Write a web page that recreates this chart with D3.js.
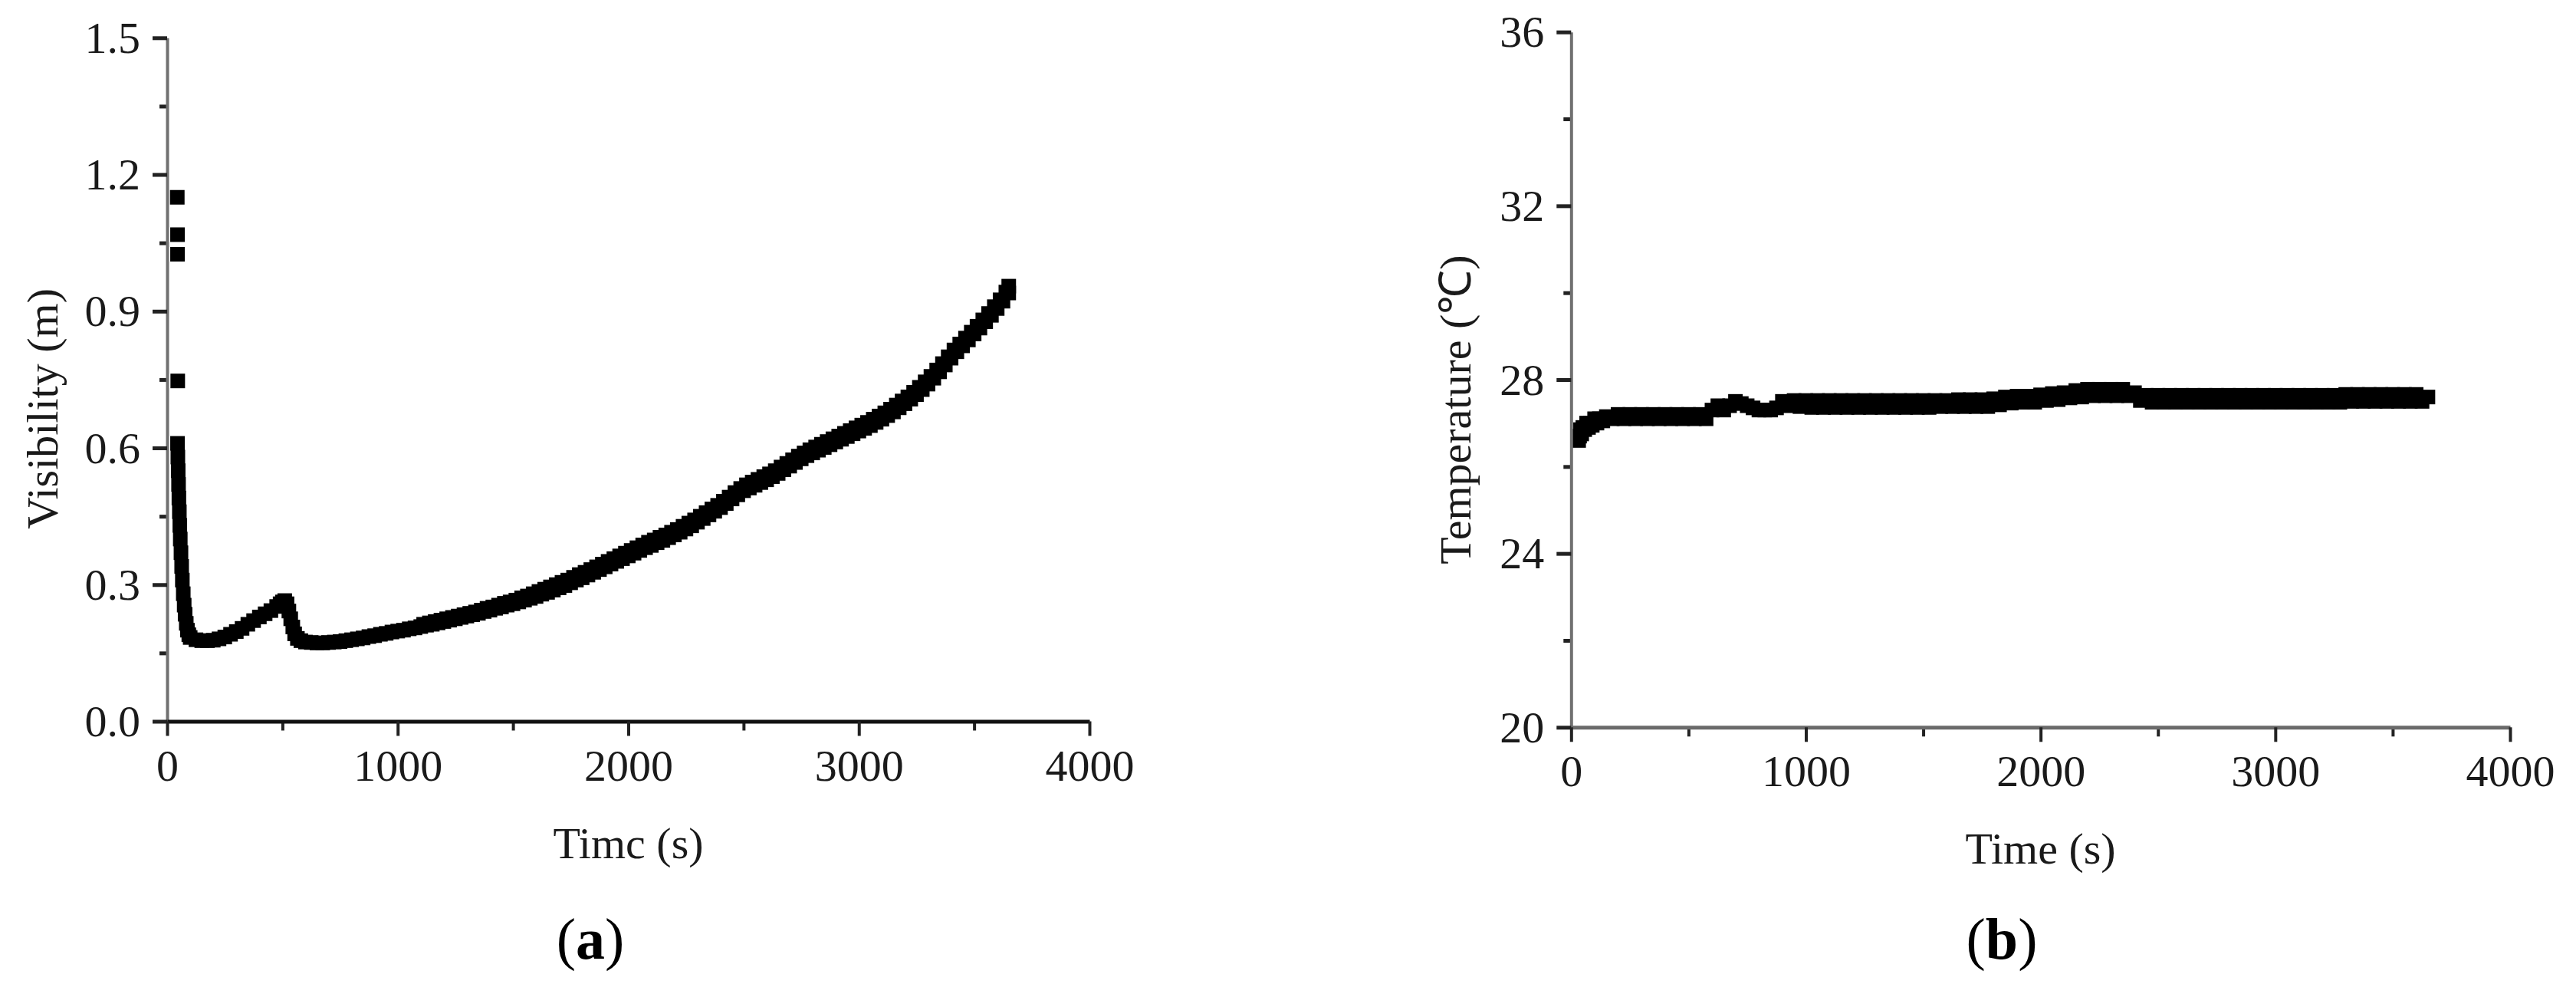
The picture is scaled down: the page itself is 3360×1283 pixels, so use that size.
<!DOCTYPE html>
<html><head><meta charset="utf-8">
<script src="https://cdn.jsdelivr.net/npm/d3@7"></script>
<style>body{margin:0;background:#fff}svg{display:block}</style>
</head><body>
<svg id="chart" width="3360" height="1283"></svg>
<script>
// ---------- Panel (a): visibility (lower edge of the point band) ----------
const timeA = [44,45,45,46,
 45,46.5,48,49.5,51,53,55,57,60,63,66,70,74,78,83,88,94,
 100,125,150,175,200,225,250,275,300,325,350,375,400,425,450,475,490,500,510,520,528,536,545,553,565,580,
 600,625,650,675,700,725,750,775,800,825,850,875,900,925,950,975,1000,1025,1050,1075,1100,1125,1150,1175,
 1200,1225,1250,1275,1300,1325,1350,1375,1400,1425,1450,1475,1500,1525,1550,1575,1600,1625,1650,1675,
 1700,1725,1750,1775,1800,1825,1850,1875,1900,1925,1950,1975,2000,2025,2050,2075,2100,2125,2150,2175,
 2200,2225,2250,2275,2300,2325,2350,2375,2400,2425,2450,2475,2500,2525,2550,2575,2600,2625,2650,2675,
 2700,2725,2750,2775,2800,2825,2850,2875,2900,2925,2950,2975,3000,3025,3050,3075,3100,3125,3150,3175,
 3200,3225,3250,3275,3300,3325,3350,3375,3400,3425,3450,3475,3500,3525,3550,3575,3600,3625,3650];
const visibility = [1.15,1.068,1.025,0.747,
 0.61,0.58,0.55,0.52,0.49,0.46,0.43,0.40,0.37,0.34,0.31,0.28,0.255,0.235,0.215,0.20,0.19,
 0.184,0.179,0.177,0.177,0.178,0.181,0.185,0.191,0.197,0.204,0.213,0.221,0.229,0.236,0.243,0.252,0.258,0.262,0.265,0.258,0.242,0.225,0.207,0.192,0.182,0.177,
 0.174,0.173,0.172,0.172,0.173,0.174,0.175,0.177,0.179,0.181,0.183,0.186,0.188,0.191,0.193,0.196,0.198,0.200,0.203,0.205,0.208,0.211,0.213,0.216,
 0.219,0.222,0.225,0.228,0.231,0.234,0.237,0.241,0.244,0.248,0.251,0.255,0.258,0.262,0.266,0.270,0.274,0.279,0.283,0.288,
 0.293,0.298,0.304,0.310,0.315,0.321,0.327,0.333,0.339,0.345,0.351,0.357,0.363,0.369,0.375,0.381,0.386,0.392,0.397,0.403,
 0.409,0.415,0.422,0.429,0.437,0.445,0.453,0.461,0.469,0.478,0.488,0.497,0.506,0.512,0.518,0.524,0.530,0.537,0.544,0.552,
 0.560,0.568,0.576,0.583,0.589,0.595,0.601,0.607,0.613,0.619,0.625,0.631,0.637,0.643,0.649,0.656,0.663,0.671,0.679,0.688,
 0.697,0.707,0.717,0.728,0.740,0.753,0.767,0.782,0.797,0.811,0.824,0.837,0.850,0.863,0.877,0.891,0.906,0.922,0.940];
// upper edge of the point band (scatter), read from 1100 s onward
const timeA2 = [1112.5,1137.5,1162.5,1187.5,1212.5,1237.5,1262.5,1287.5,1312.5,1337.5,1362.5,1387.5,1412.5,1437.5,1462.5,1487.5,
 1512.5,1537.5,1562.5,1587.5,
 1612.5,1637.5,1662.5,1687.5,1712.5,1737.5,1762.5,1787.5,1812.5,1837.5,1862.5,1887.5,1912.5,1937.5,1962.5,1987.5,
 2012.5,2037.5,2062.5,2087.5,2112.5,2137.5,2162.5,2187.5,2212.5,2237.5,2262.5,2287.5,2312.5,2337.5,2362.5,2387.5,
 2412.5,2437.5,2462.5,2487.5,2512.5,2537.5,2562.5,2587.5,2612.5,2637.5,2662.5,2687.5,2712.5,2737.5,2762.5,2787.5,
 2812.5,2837.5,2862.5,2887.5,2912.5,2937.5,2962.5,2987.5,3012.5,3037.5,3062.5,3087.5,3112.5,3137.5,3162.5,3187.5,
 3212.5,3237.5,3262.5,3287.5,3312.5,3337.5,3362.5,3387.5,3412.5,3437.5,3462.5,3487.5,3512.5,3537.5,3562.5,3587.5,
 3612.5,3637.5,3650];
const visibilityA2 = [0.213,0.216,0.219,0.222,0.225,0.228,0.231,0.234,0.237,0.240,0.244,0.248,0.251,0.255,0.259,0.262,
 0.266,0.271,0.275,0.280,
 0.285,0.290,0.295,0.300,0.305,0.310,0.316,0.322,0.327,0.333,0.339,0.345,0.351,0.357,0.363,0.369,
 0.375,0.381,0.387,0.393,0.398,0.404,0.409,0.415,0.421,0.428,0.435,0.442,0.450,0.458,0.466,0.474,
 0.483,0.492,0.502,0.511,0.519,0.525,0.531,0.537,0.543,0.550,0.558,0.566,0.574,0.582,0.589,0.596,
 0.602,0.608,0.614,0.620,0.626,0.632,0.638,0.644,0.650,0.656,0.663,0.670,0.677,0.685,0.694,0.703,
 0.712,0.722,0.733,0.745,0.757,0.771,0.785,0.800,0.815,0.828,0.841,0.854,0.867,0.881,0.895,0.910,
 0.925,0.942,0.955];
const xTicksA = [0,1000,2000,3000,4000];
const xMinorA = [500,1500,2500,3500];
const yTicksA = [0,0.3,0.6,0.9,1.2,1.5];
const yMinorA = [0.15,0.45,0.75,1.05,1.35];

// ---------- Panel (b): temperature ----------
const timeB = [32,36,40,45,50,58,66,74,82,90,100,110,120,135,150,175,
 200,225,250,275,300,325,350,375,400,425,450,475,500,525,550,575,600,625,650,675,700,725,750,775,
 800,825,850,875,900,925,950,975,1000,1025,1050,1075,1100,1125,1150,1175,1200,1225,1250,1275,1300,1325,1350,1375,
 1400,1425,1450,1475,1500,1525,1550,1575,1600,1625,1650,1675,1700,1725,1750,1775,1800,1825,1850,1875,
 1900,1925,1950,1975,2000,2025,2050,2075,2100,2125,2150,2175,2200,2225,2250,2275,2300,2325,2350,2375,
 2400,2425,2450,2475,2500,2525,2550,2575,2600,2625,2650,2675,2700,2725,2750,2775,2800,2825,2850,2875,
 2900,2925,2950,2975,3000,3025,3050,3075,3100,3125,3150,3175,3200,3225,3250,3275,3300,3325,3350,3375,
 3400,3425,3450,3475,3500,3525,3550,3575,3600,3625,3650];
const temperature = [26.6,26.7,26.85,26.75,26.9,26.85,27.0,26.9,27.0,26.95,27.1,27.0,27.1,27.05,27.15,27.1,
 27.2,27.1,27.2,27.1,27.2,27.1,27.2,27.1,27.2,27.1,27.2,27.1,27.2,27.1,27.2,27.1,27.3,27.4,27.3,27.4,27.5,27.45,27.4,27.35,
 27.3,27.3,27.3,27.35,27.5,27.4,27.52,27.38,27.52,27.36,27.52,27.36,27.52,27.36,27.52,27.36,27.52,27.36,27.52,27.36,27.52,27.36,27.52,27.36,
 27.52,27.36,27.52,27.36,27.52,27.36,27.52,27.38,27.52,27.38,27.54,27.38,27.54,27.38,27.54,27.38,27.56,27.42,27.6,27.46,
 27.62,27.48,27.62,27.48,27.65,27.52,27.68,27.54,27.7,27.58,27.75,27.6,27.78,27.63,27.78,27.63,27.78,27.63,27.78,27.63,
 27.7,27.52,27.64,27.48,27.64,27.48,27.64,27.48,27.64,27.48,27.64,27.48,27.64,27.48,27.64,27.48,27.64,27.48,27.64,27.48,
 27.64,27.48,27.64,27.48,27.64,27.48,27.64,27.48,27.64,27.48,27.64,27.48,27.64,27.48,27.64,27.48,27.66,27.5,27.66,27.5,
 27.66,27.5,27.66,27.5,27.66,27.5,27.66,27.5,27.66,27.5,27.6];
const xTicksB = [0,1000,2000,3000,4000];
const xMinorB = [500,1500,2500,3500];
const yTicksB = [20,24,28,32,36];
const yMinorB = [22,26,30,34];

const FONT = '"Liberation Serif","Times New Roman",serif';
const svg = d3.select('#chart');

function panel(cfg) {
  const x = d3.scaleLinear().domain([0, 4000]).range(cfg.xRange);
  const y = d3.scaleLinear().domain(cfg.yDomain).range(cfg.yRange);
  const g = svg.append('g');

  // data squares
  const S = 19;
  const pts = cfg.series.flatMap(s => d3.zip(s[0], s[1]));
  g.append('g').selectAll('rect')
    .data(pts)
    .join('rect')
    .attr('x', d => x(d[0]) - S / 2)
    .attr('y', d => y(d[1]) - S / 2)
    .attr('width', S).attr('height', S)
    .attr('fill', '#000');

  // minor ticks
  g.append('g').attr('transform', `translate(${cfg.xRange[0]},0)`)
    .call(d3.axisLeft(y).tickValues(cfg.yMinor).tickSize(10).tickFormat(''))
    .call(a => a.select('.domain').remove())
    .call(a => a.selectAll('line').attr('stroke', '#222').attr('stroke-width', 5));
  g.append('g').attr('transform', `translate(0,${cfg.yRange[0]})`)
    .call(d3.axisBottom(x).tickValues(cfg.xMinor).tickSize(12).tickFormat(''))
    .call(a => a.select('.domain').remove())
    .call(a => a.selectAll('line').attr('stroke', '#222').attr('stroke-width', 4));

  // y axis
  const ya = g.append('g').attr('transform', `translate(${cfg.xRange[0]},0)`)
    .call(d3.axisLeft(y).tickValues(cfg.yTicks).tickSize(19).tickSizeOuter(0)
      .tickPadding(16).tickFormat(cfg.yFmt));
  ya.select('.domain').attr('stroke', '#707070').attr('stroke-width', 4);
  ya.selectAll('.tick line').attr('stroke', '#222').attr('stroke-width', 5);
  ya.selectAll('.tick text').attr('font-family', FONT).attr('font-size', 58)
    .attr('fill', '#1a1a1a').attr('dy', '0.33em');

  // x axis
  const xa = g.append('g').attr('transform', `translate(0,${cfg.yRange[0]})`)
    .call(d3.axisBottom(x).tickValues(cfg.xTicks).tickSize(19).tickSizeOuter(0)
      .tickPadding(17).tickFormat(d3.format('d')));
  xa.select('.domain').attr('stroke', cfg.xAxisColor).attr('stroke-width', 5);
  xa.selectAll('.tick line').attr('stroke', '#222').attr('stroke-width', 4);
  xa.selectAll('.tick text').attr('font-family', FONT).attr('font-size', 58)
    .attr('fill', '#1a1a1a');

  // x title
  g.append('text')
    .attr('x', (cfg.xRange[0] + cfg.xRange[1]) / 2)
    .attr('y', cfg.yRange[0] + 178)
    .attr('text-anchor', 'middle')
    .attr('font-family', FONT).attr('font-size', 58).attr('fill', '#1a1a1a')
    .text(cfg.xTitle);

  // y title
  g.append('text')
    .attr('transform', `translate(${cfg.yTitleX},${cfg.yTitleY}) rotate(-90)`)
    .attr('text-anchor', 'middle')
    .attr('font-family', FONT).attr('font-size', 58).attr('fill', '#1a1a1a')
    .text(cfg.yTitle);

  // panel label
  const lab = g.append('text')
    .attr('x', cfg.labelX).attr('y', 1250)
    .attr('text-anchor', 'middle')
    .attr('font-family', FONT).attr('font-size', 76).attr('fill', '#000');
  lab.append('tspan').text('(');
  lab.append('tspan').attr('font-weight', 'bold').text(cfg.label);
  lab.append('tspan').text(')');
}

panel({
  series: [[timeA, visibility], [timeA2, visibilityA2]],
  xRange: [218, 1421], yRange: [940.5, 49.3], yDomain: [0, 1.5],
  xTicks: xTicksA, xMinor: xMinorA, yTicks: yTicksA, yMinor: yMinorA,
  yFmt: d3.format('.1f'), xAxisColor: '#111',
  xTitle: 'Timc (s)', yTitle: 'Visibility (m)', yTitleX: 75, yTitleY: 533,
  label: 'a', labelX: 770
});

panel({
  series: [[timeB, temperature]],
  xRange: [2049.3, 3274], yRange: [948.3, 41.7], yDomain: [20, 36],
  xTicks: xTicksB, xMinor: xMinorB, yTicks: yTicksB, yMinor: yMinorB,
  yFmt: d3.format('d'), xAxisColor: '#6a6a6a',
  xTitle: 'Time (s)', yTitle: 'Temperature (\u2103)', yTitleX: 1918, yTitleY: 534,
  label: 'b', labelX: 2611
});
</script>
</body></html>
